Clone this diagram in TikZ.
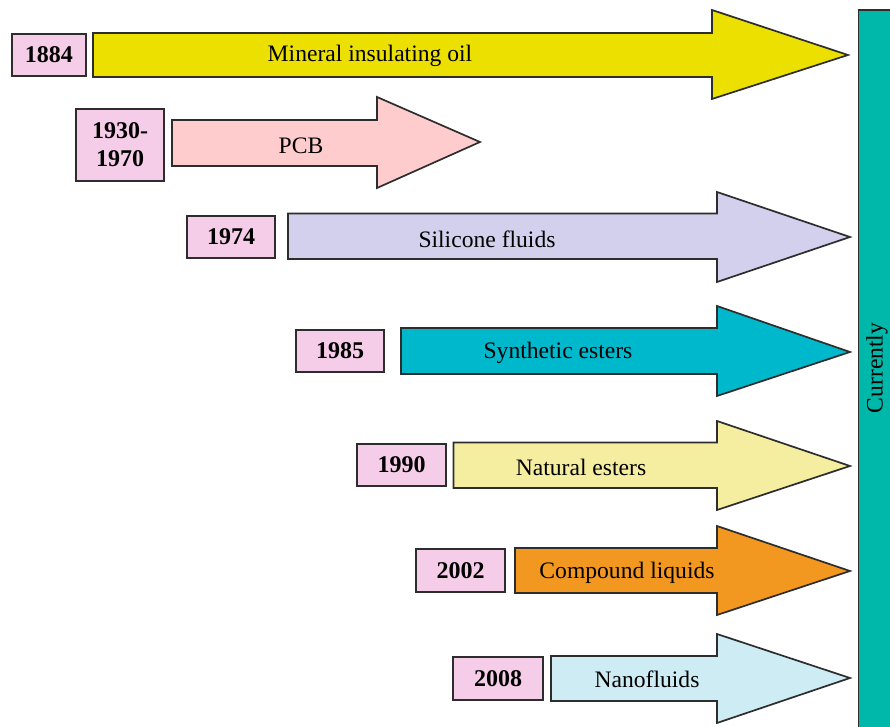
\documentclass[tikz,border=0pt]{standalone}
\usepackage{fontspec}
\setmainfont{Liberation Serif}
\definecolor{cYellow}{RGB}{236,224,0}
\definecolor{cPCB}{RGB}{255,204,206}
\definecolor{cSil}{RGB}{210,208,236}
\definecolor{cSyn}{RGB}{0,184,204}
\definecolor{cNat}{RGB}{245,238,160}
\definecolor{cComp}{RGB}{242,152,32}
\definecolor{cNano}{RGB}{205,236,243}
\definecolor{cYear}{RGB}{245,205,232}
\definecolor{cBar}{RGB}{0,184,170}
\definecolor{cLine}{RGB}{45,45,45}
\newcommand{\tlarrow}[9]{%
  \draw[arrowshape, fill=#1] (#2,#3) -- (#5,#3) -- (#5,#6) -- (#8,#9) -- (#5,#7) -- (#5,#4) -- (#2,#4) -- cycle;}
\begin{document}
\begin{tikzpicture}[x=0.5pt, y=-0.5pt,
  arrowshape/.style={draw=cLine, line width=0.85pt, line join=miter},
  yearbox/.style={draw=cLine, line width=0.85pt, fill=cYear, inner sep=0pt, align=center,
     font=\fontsize{12}{13}\selectfont\bfseries},
  lbl/.style={font=\fontsize{11.8}{13}\selectfont, inner sep=0pt}]
\useasboundingbox (0,0) rectangle (890,727);
% right bar
\draw[draw=cLine, line width=0.85pt, fill=cBar] (858.5,10) rectangle (895,735);
\node[lbl, rotate=90] (cur) at (877,368) {Currently};
% arrows: color xl ytop ybot xb htop hbot tipx tipy
\tlarrow{cYellow}{93}{33}{77}{712}{10}{99}{848}{55}
\tlarrow{cPCB}{172}{120}{166}{377}{97}{188}{480}{142}
\tlarrow{cSil}{288}{213.5}{259}{717}{192}{282}{850}{237}
\tlarrow{cSyn}{401}{328}{374}{717}{306}{396}{850}{352}
\tlarrow{cNat}{453.5}{442.5}{488}{717}{421}{510}{850}{466}
\tlarrow{cComp}{515}{548}{593}{717}{526}{615}{850}{571}
\tlarrow{cNano}{551}{656}{701}{717}{634}{723}{850}{678}
% labels
\node[lbl] (t1) at (370,56) {Mineral insulating oil};
\node[lbl] (t2) at (301,146) {PCB};
\node[lbl] (t3) at (487,239) {Silicone fluids};
\node[lbl] (t4) at (558,353) {Synthetic esters};
\node[lbl] (t5) at (581,467) {Natural esters};
\node[lbl] (t6) at (627,573) {Compound liquids};
\node[lbl] (t7) at (647,679) {Nanofluids};
% year boxes
\node[yearbox, minimum width=37pt, minimum height=21pt] (y1) at (49,55) {\raisebox{-1.2pt}{1884}};
\node[yearbox, minimum width=44pt, minimum height=36pt] (y2) at (120,145) {1930-\\[1pt]1970};
\node[yearbox, minimum width=44pt, minimum height=21pt] (y3) at (231,237) {\raisebox{-1.2pt}{1974}};
\node[yearbox, minimum width=44pt, minimum height=21pt] (y4) at (340,351) {\raisebox{-1.2pt}{1985}};
\node[yearbox, minimum width=44.5pt, minimum height=21pt] (y5) at (401.5,465) {\raisebox{-1.2pt}{1990}};
\node[yearbox, minimum width=44.5pt, minimum height=21.5pt] (y6) at (460.5,570.5) {\raisebox{-1.2pt}{2002}};
\node[yearbox, minimum width=45pt, minimum height=21.5pt] (y7) at (498,678.5) {\raisebox{-1.2pt}{2008}};
\end{tikzpicture}
\end{document}
